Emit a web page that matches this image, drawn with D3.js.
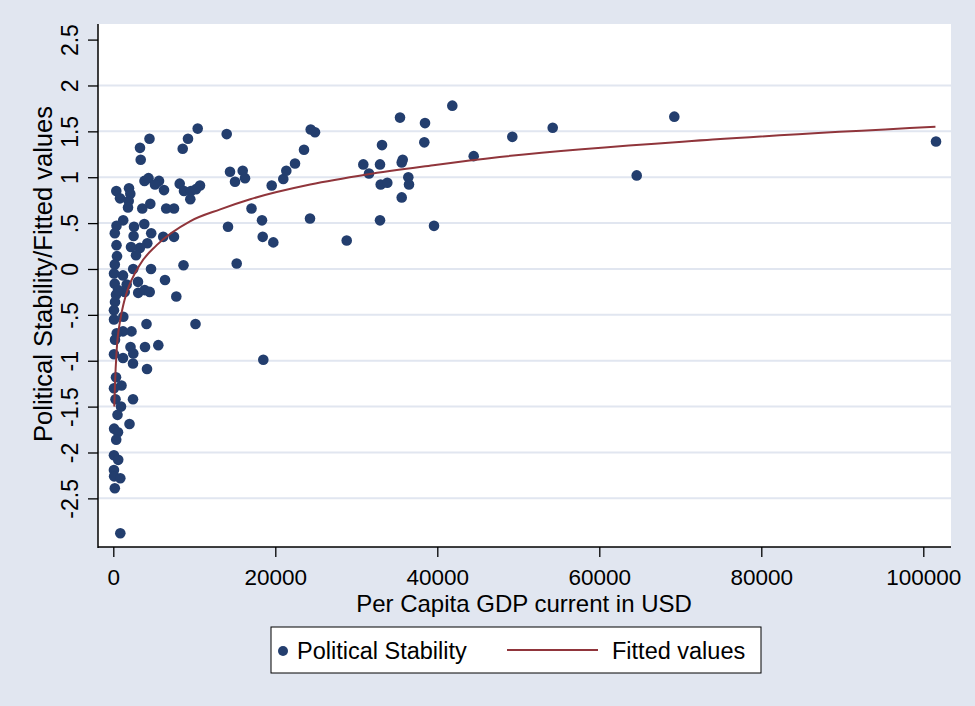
<!DOCTYPE html>
<html>
<head>
<meta charset="utf-8">
<script src="https://cdn.jsdelivr.net/npm/d3@7"></script>
<style>
  html, body { margin: 0; padding: 0; background: #e1e6f0; }
  svg { display: block; font-family: "Liberation Sans", Arial, sans-serif; }
</style>
</head>
<body>
<svg id="chart" width="975" height="706"></svg>
<script>
// ---- Data ----
const gdp = [
  14000, 14408, 15976, 15025, 16260, 19556, 20988, 21359, 22433, 23544, 24371, 24902,
  17062, 14161, 18358, 18445, 19754, 15235, 24285, 28816, 18519,
  30865, 31569, 32927, 33174, 33013, 33828, 32927, 35396, 35606, 35729, 35606, 36421, 36507,
  38483, 38396, 39594, 41853, 44495, 49261, 54248, 64619, 69261, 101571,
  10420, 9222, 8568, 10704, 8198, 8729, 9506, 9593, 10210, 8667, 7778, 10148,
  4469, 3296, 3383, 3852, 4346, 5642, 5148, 6259, 6531, 7494, 3580, 4568,
  3827, 4679, 6161, 7494, 4198, 3272, 2803, 4654, 6383, 3074, 3877, 4494, 3049,
  4099, 3914, 5556, 4161,
  370, 1938, 2099, 827, 1901, 1815, 1222, 395, 185, 2556, 2506, 395, 2185, 457,
  185, 2457, 1198, 90, 173, 1654, 1407, 333, 210, 80, 86, 1235, 2247, 1198,
  420, 210, 2124, 2469, 86, 1198, 2432, 333, 1012, 86, 2432, 272, 951, 519,
  2000, 100, 580, 358, 80, 605, 80, 100, 864, 185, 864, 580
];
const stability = [
  1.47, 1.06, 1.07, 0.95, 0.99, 0.91, 0.98, 1.07, 1.15, 1.30, 1.52, 1.49,
  0.66, 0.46, 0.53, 0.35, 0.29, 0.06, 0.55, 0.31, -0.99,
  1.14, 1.04, 1.14, 1.35, 0.92, 0.94, 0.53, 1.65, 1.16, 1.19, 0.78, 1.00, 0.92,
  1.59, 1.38, 0.47, 1.78, 1.23, 1.44, 1.54, 1.02, 1.66, 1.39,
  1.53, 1.42, 1.31, 0.91, 0.93, 0.85, 0.76, 0.85, 0.87, 0.04, -0.30, -0.60,
  1.42, 1.32, 1.19, 0.96, 0.99, 0.96, 0.92, 0.86, 0.66, 0.66, 0.66, 0.71,
  0.49, 0.39, 0.35, 0.35, 0.28, 0.23, 0.15, 0.00, -0.12, -0.26, -0.23, -0.25, -0.14,
  -0.60, -0.85, -0.83, -1.09,
  0.85, 0.88, 0.82, 0.77, 0.74, 0.67, 0.53, 0.47, 0.39, 0.46, 0.36, 0.26, 0.24, 0.14,
  0.05, 0.00, -0.07, -0.05, -0.16, -0.17, -0.25, -0.28, -0.36, -0.45, -0.55, -0.52, -0.68, -0.68,
  -0.70, -0.77, -0.85, -0.92, -0.93, -0.97, -1.03, -1.18, -1.27, -1.30, -1.42, -1.42, -1.50, -1.59,
  -1.69, -1.74, -1.78, -1.86, -2.03, -2.08, -2.19, -2.26, -2.28, -2.39, -2.88, -0.23
];
const fitGdp = [120, 210, 420, 830, 1240, 1650, 3300, 5360, 9470, 13200, 16900, 24300, 31300, 39500, 47700, 74000, 101500];
const fitVal = [-1.50, -1.25, -0.88, -0.57, -0.39, -0.26, 0.05, 0.26, 0.52, 0.65, 0.76, 0.92, 1.03, 1.13, 1.22, 1.41, 1.55];
const xTicks = [0, 20000, 40000, 60000, 80000, 100000];
const yTicks = [-2.5, -2, -1.5, -1, -0.5, 0, 0.5, 1, 1.5, 2, 2.5];
const yGrid = [-2.5, -2, -1.5, -1, -0.5, 0, 0.5, 1, 1.5, 2];

// ---- Layout ----
const W = 975, H = 706;
const plot = { left: 98, right: 951, top: 24, bottom: 547 };
const svg = d3.select("#chart");

svg.append("rect").attr("width", W).attr("height", H).attr("fill", "#e1e6f0");
svg.append("rect")
  .attr("x", plot.left).attr("y", plot.top)
  .attr("width", plot.right - plot.left).attr("height", plot.bottom - plot.top)
  .attr("fill", "#ffffff");

const x = d3.scaleLinear().domain([-1889, 103420]).range([plot.left, plot.right]);
const y = d3.scaleLinear().domain([-3.03, 2.67]).range([plot.bottom, plot.top]);

// gridlines
svg.append("g").selectAll("line").data(yGrid).join("line")
  .attr("x1", plot.left).attr("x2", plot.right)
  .attr("y1", d => y(d)).attr("y2", d => y(d))
  .attr("stroke", "#e1e6f0").attr("stroke-width", 2);

const fmt = d => d === 0 ? "0" : String(d).replace("0.", ".");

// y axis
const yAxis = svg.append("g").attr("transform", `translate(${plot.left},0)`)
  .call(d3.axisLeft(y).tickValues(yTicks).tickFormat(fmt).tickSize(10).tickSizeOuter(0));
yAxis.select(".domain").remove();
yAxis.selectAll(".tick line").attr("stroke", "#000").attr("stroke-width", 1.3);
yAxis.selectAll(".tick text")
  .attr("font-size", 23).attr("fill", "#000")
  .attr("text-anchor", "middle")
  .attr("transform", "rotate(-90)")
  .attr("x", 0).attr("y", -20).attr("dy", 0);
svg.append("line")
  .attr("x1", plot.left).attr("x2", plot.left)
  .attr("y1", plot.top).attr("y2", plot.bottom + 1)
  .attr("stroke", "#000").attr("stroke-width", 1.5);

// x axis
const xAxis = svg.append("g").attr("transform", `translate(0,${plot.bottom})`)
  .call(d3.axisBottom(x).tickValues(xTicks).tickFormat(d3.format("d")).tickSize(10).tickSizeOuter(0));
xAxis.select(".domain").remove();
xAxis.selectAll(".tick line").attr("stroke", "#000").attr("stroke-width", 1.3);
xAxis.selectAll(".tick text").attr("font-size", 22.5).attr("fill", "#000").attr("y", 38).attr("dy", 0);
svg.append("line")
  .attr("x1", plot.left).attr("x2", plot.right)
  .attr("y1", plot.bottom).attr("y2", plot.bottom)
  .attr("stroke", "#000").attr("stroke-width", 1.5);

// axis titles
svg.append("text").attr("x", 524).attr("y", 612).attr("text-anchor", "middle")
  .attr("font-size", 24).attr("fill", "#000").text("Per Capita GDP current in USD");
svg.append("text").attr("transform", "translate(52,274) rotate(-90)").attr("text-anchor", "middle")
  .attr("font-size", 25.5).attr("fill", "#000").text("Political Stability/Fitted values");

// points
const pts = gdp.map((g, i) => ({ g, v: stability[i] }));
svg.append("g").selectAll("circle").data(pts).join("circle")
  .attr("cx", d => x(d.g)).attr("cy", d => y(d.v)).attr("r", 5.3)
  .attr("fill", "#233e6e");

// fitted line
const fit = fitGdp.map((g, i) => ({ g, v: fitVal[i] }));
svg.append("path").datum(fit)
  .attr("d", d3.line().x(d => x(d.g)).y(d => y(d.v)).curve(d3.curveMonotoneX))
  .attr("fill", "none").attr("stroke", "#90353b").attr("stroke-width", 2);

// legend
const lg = svg.append("g");
lg.append("rect").attr("x", 271).attr("y", 627).attr("width", 490).attr("height", 46)
  .attr("fill", "#fff").attr("stroke", "#000").attr("stroke-width", 1);
lg.append("circle").attr("cx", 283).attr("cy", 651).attr("r", 5).attr("fill", "#233e6e");
lg.append("text").attr("x", 297).attr("y", 659).attr("font-size", 23.5).attr("fill", "#000").text("Political Stability");
lg.append("line").attr("x1", 507).attr("x2", 598).attr("y1", 650).attr("y2", 650)
  .attr("stroke", "#90353b").attr("stroke-width", 2);
lg.append("text").attr("x", 612).attr("y", 659).attr("font-size", 23.5).attr("fill", "#000").text("Fitted values");
</script>
</body>
</html>
